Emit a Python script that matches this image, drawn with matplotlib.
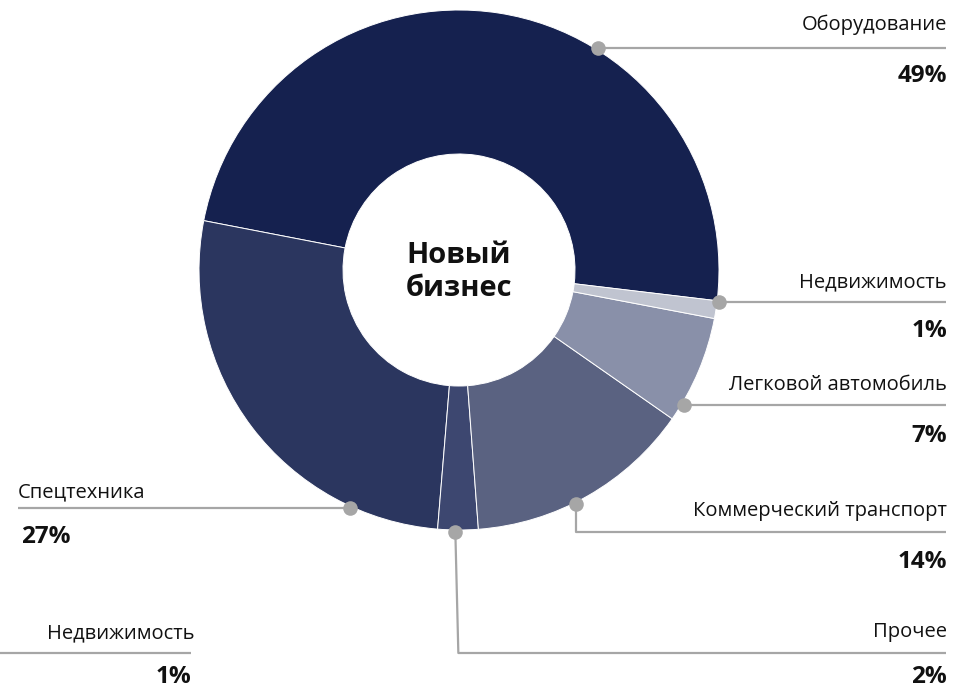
import matplotlib
matplotlib.use("Agg")
import matplotlib.pyplot as plt
import numpy as np

# ---- data ----
categories = ["Оборудование", "Спецтехника", "Прочее", "Коммерческий транспорт",
              "Легковой автомобиль", "Недвижимость"]
shares = [48.8, 26.7, 2.5, 14.1, 6.7, 1.1]
pct_labels = ["49%", "27%", "2%", "14%", "7%", "1%"]
center_title = "Новый\nбизнес"
extra_label = "Недвижимость"
extra_pct = "1%"

# ---- style ----
colors = ["#15214f", "#2b365f", "#3d4770", "#5a6281", "#8990a9", "#c0c4d0"]
W, H = 956, 691
plt.rcParams['font.family'] = ['Open Sans', 'DejaVu Sans']
LBL_FS = 14.5
PCT_FS = 17.5
TXT_C = '#111111'

fig = plt.figure(figsize=(W / 100, H / 100), dpi=100)
ax = fig.add_axes([0, 0, 1, 1])

def Y(py):
    return H - py

cx, cy = 459, Y(270)
R_out, R_in = 260, 116
ax.pie(shares, colors=colors, startangle=-6.8, counterclock=True,
       center=(cx, cy), radius=R_out, frame=True,
       wedgeprops=dict(width=R_out - R_in, edgecolor="white", linewidth=0.7))
ax.set_xlim(0, W)
ax.set_ylim(0, H)
ax.axis('off')

ax.text(cx, Y(272), center_title, ha='center', va='center', fontsize=21,
        fontweight='bold', linespacing=1.22, color=TXT_C)

line_c = "#a6a6a6"
dot_angles = [58, 245.5, 269.2, 296.5, 329, 353]
r_dot = 262
dots = []
for a in dot_angles:
    t = np.deg2rad(a)
    dots.append((cx + r_dot * np.cos(t), cy + r_dot * np.sin(t)))

def draw_path(pts):
    xs, ys = zip(*pts)
    ax.plot(xs, ys, color=line_c, lw=1.6, solid_capstyle='butt', zorder=3)

def label(x, ylab, ypct, name, pct, ha='right', xpct=None):
    ax.text(x, Y(ylab), name, ha=ha, va='center', fontsize=LBL_FS, color=TXT_C)
    ax.text(x if xpct is None else xpct, Y(ypct), pct, ha=ha, va='center',
            fontsize=PCT_FS, fontweight='bold', color=TXT_C)

# Оборудование
d = dots[0]
draw_path([d, (946, d[1])])
label(947, 25, 76, categories[0], pct_labels[0])

# Недвижимость (right)
d = dots[5]
draw_path([d, (946, d[1])])
label(947, 282, 331, categories[5], pct_labels[5])

# Легковой автомобиль
d = dots[4]
draw_path([d, (946, d[1])])
label(947, 385, 436, categories[4], pct_labels[4])

# Коммерческий транспорт
d = dots[3]
draw_path([d, (d[0], Y(532)), (946, Y(532))])
label(947, 511, 562, categories[3], pct_labels[3])

# Прочее
d = dots[2]
draw_path([d, (d[0] + 3, Y(653)), (946, Y(653))])
label(947, 632, 677, categories[2], pct_labels[2])

# Спецтехника (left)
d = dots[1]
draw_path([d, (18, d[1])])
label(18, 492, 537, categories[1], pct_labels[1], ha='left', xpct=21)

# extra Недвижимость (bottom-left)
draw_path([(0, Y(653)), (191, Y(653))])
label(195, 633, 677, extra_label, extra_pct, xpct=191)

# dots
for (x, y) in dots:
    ax.plot(x, y, 'o', color=line_c, markersize=10.5, zorder=4, markeredgewidth=0)

fig.savefig("out.png", dpi=100)
